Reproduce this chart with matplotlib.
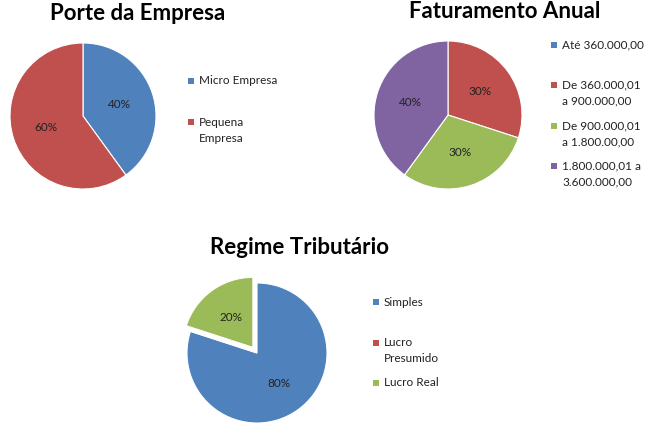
import numpy as np
import matplotlib.pyplot as plt
from matplotlib.patches import Rectangle

# data
porte_labels = ['Micro Empresa', 'Pequena\nEmpresa']
porte_vals = [40, 60]
fat_labels = ['Até 360.000,00', 'De 360.000,01\na 900.000,00',
              'De 900.000,01\na 1.800.00,00', '1.800.000,01 a\n3.600.000,00']
fat_vals = [0, 30, 30, 40]
reg_labels = ['Simples', 'Lucro\nPresumido', 'Lucro Real']
reg_vals = [80, 0, 20]

cols = ['#4F81BD', '#C0504D', '#9BBB59', '#8064A2']

W, H = 657, 434
fig = plt.figure(figsize=(W / 100, H / 100), dpi=100)
fig.patch.set_facecolor('white')
plt.rcParams['font.family'] = ['Lato', 'DejaVu Sans']


def pie_at(vals, cx, cy, r, explode=None):
    s = 2.5 * r
    ax = fig.add_axes([(cx - s / 2) / W, (H - cy - s / 2) / H, s / W, s / H])
    wedges, _ = ax.pie(vals, colors=cols[:len(vals)], startangle=90, counterclock=False,
                       explode=explode, wedgeprops=dict(edgecolor='white', linewidth=0.8))
    tot = sum(vals)
    for w, v in zip(wedges, vals):
        if v == 0:
            continue
        ang = np.deg2rad((w.theta1 + w.theta2) / 2)
        cxw, cyw = w.center
        ax.text(cxw + 0.53 * np.cos(ang), cyw + 0.53 * np.sin(ang), f'{v / tot * 100:.0f}%',
                ha='center', va='center', fontsize=8.5, color='#222222')
    ax.set_xlim(-1.25, 1.25)
    ax.set_ylim(-1.25, 1.25)
    return ax


def legend_at(labels, x, rows):
    for i, (lab, y) in enumerate(zip(labels, rows)):
        fig.add_artist(Rectangle((x / W, (H - y - 3) / H), 6 / W, 6 / H,
                                 transform=fig.transFigure, facecolor=cols[i], edgecolor='none'))
        for j, line in enumerate(lab.split('\n')):
            fig.text((x + 11) / W, (H - y - 16 * j) / H, line, ha='left', va='center',
                     fontsize=8.5, color='#222222')


pie_at(porte_vals, 83, 116, 73)
legend_at(porte_labels, 188, [81, 122])
fig.text(138 / W, (H - 14) / H, 'Porte da Empresa', ha='center', va='center',
         fontsize=16, fontweight='bold', color='black')

pie_at(fat_vals, 448, 115, 74)
legend_at(fat_labels, 551, [45, 85, 126, 166])
fig.text(505 / W, (H - 12) / H, 'Faturamento Anual', ha='center', va='center',
         fontsize=16, fontweight='bold', color='black')

pie_at(reg_vals, 257, 353, 70, explode=[0, 0, 0.1])
legend_at(reg_labels, 373, [302, 343, 383])
fig.text(299 / W, (H - 247) / H, 'Regime Tributário', ha='center', va='center',
         fontsize=16, fontweight='bold', color='black')

fig.savefig('out.png', dpi=100)
